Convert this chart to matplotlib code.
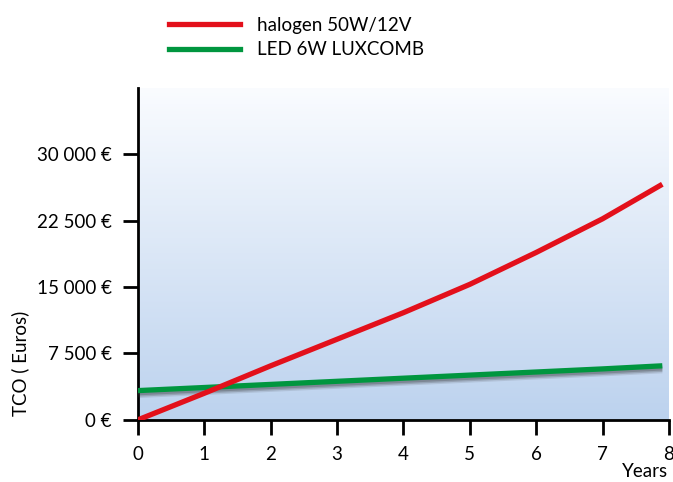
import numpy as np
import matplotlib.pyplot as plt
import matplotlib.patheffects as pe
from matplotlib.lines import Line2D

plt.rcParams['font.family'] = ['Lato', 'DejaVu Sans']

# dane
lata = [0, 1, 2, 3, 4, 5, 6, 7, 7.9]
halogen = [0, 3000, 6100, 9100, 12100, 15300, 18900, 22700, 26600]
led = [3300, 3650, 4000, 4350, 4700, 5050, 5400, 5750, 6100]
y_ticks = [0, 7500, 15000, 22500, 30000]
y_labels = ['0 €', '7 500 €', '15 000 €', '22 500 €', '30 000 €']
x_ticks = [0, 1, 2, 3, 4, 5, 6, 7, 8]

FS = 13.5

fig = plt.figure(figsize=(6.73, 4.82), dpi=100)
ax = fig.add_axes([0.205, 0.129, 0.789, 0.689])

# tlo z gradientem
gora = np.array([250, 252, 255]) / 255
dol = np.array([188, 210, 238]) / 255
t = np.linspace(0, 1, 256)[:, None]
grad = (gora * (1 - t) + dol * t)[:, None, :]
ax.imshow(grad, extent=[0, 1, 0, 1], transform=ax.transAxes, aspect='auto', zorder=0)

# rozmyty cien pod zielona linia
cien = [pe.SimpleLineShadow(offset=(0, -1.5), shadow_color='#303030', alpha=0.25),
        pe.SimpleLineShadow(offset=(0, -2.5), shadow_color='#303030', alpha=0.2),
        pe.SimpleLineShadow(offset=(0, -3.5), shadow_color='#303030', alpha=0.12),
        pe.Normal()]
ax.plot(lata, led, color='#00963f', lw=3.8, solid_capstyle='butt', path_effects=cien, zorder=3)
ax.plot(lata, halogen, color='#e3101b', lw=3.8, solid_capstyle='butt', zorder=4)

ax.set_xlim(0, 8)
ax.set_ylim(0, 37500)
ax.set_xticks(x_ticks)
ax.set_yticks(y_ticks)
ax.set_yticklabels(y_labels)
ax.tick_params(axis='both', labelsize=FS, width=2, length=11, color='black')
ax.tick_params(axis='y', pad=8)
ax.tick_params(axis='x', pad=8)
for s in ['top', 'right']:
    ax.spines[s].set_visible(False)
for s in ['left', 'bottom']:
    ax.spines[s].set_linewidth(2)

fig.text(0.03, 0.247, 'TCO ( Euros)', rotation=90, fontsize=FS, va='center', ha='center')
fig.text(0.993, 0.005, 'Years', fontsize=FS, ha='right', va='bottom')

uchwyty = [Line2D([], [], color='#e3101b', lw=3.8), Line2D([], [], color='#00963f', lw=3.8)]
fig.legend(uchwyty, ['halogen 50W/12V', 'LED 6W LUXCOMB'], loc='upper left',
           bbox_to_anchor=(0.226, 1.0), frameon=False, fontsize=FS, handlelength=3.8,
           handletextpad=0.9, labelspacing=0.4)

fig.savefig('out.png', dpi=100)
